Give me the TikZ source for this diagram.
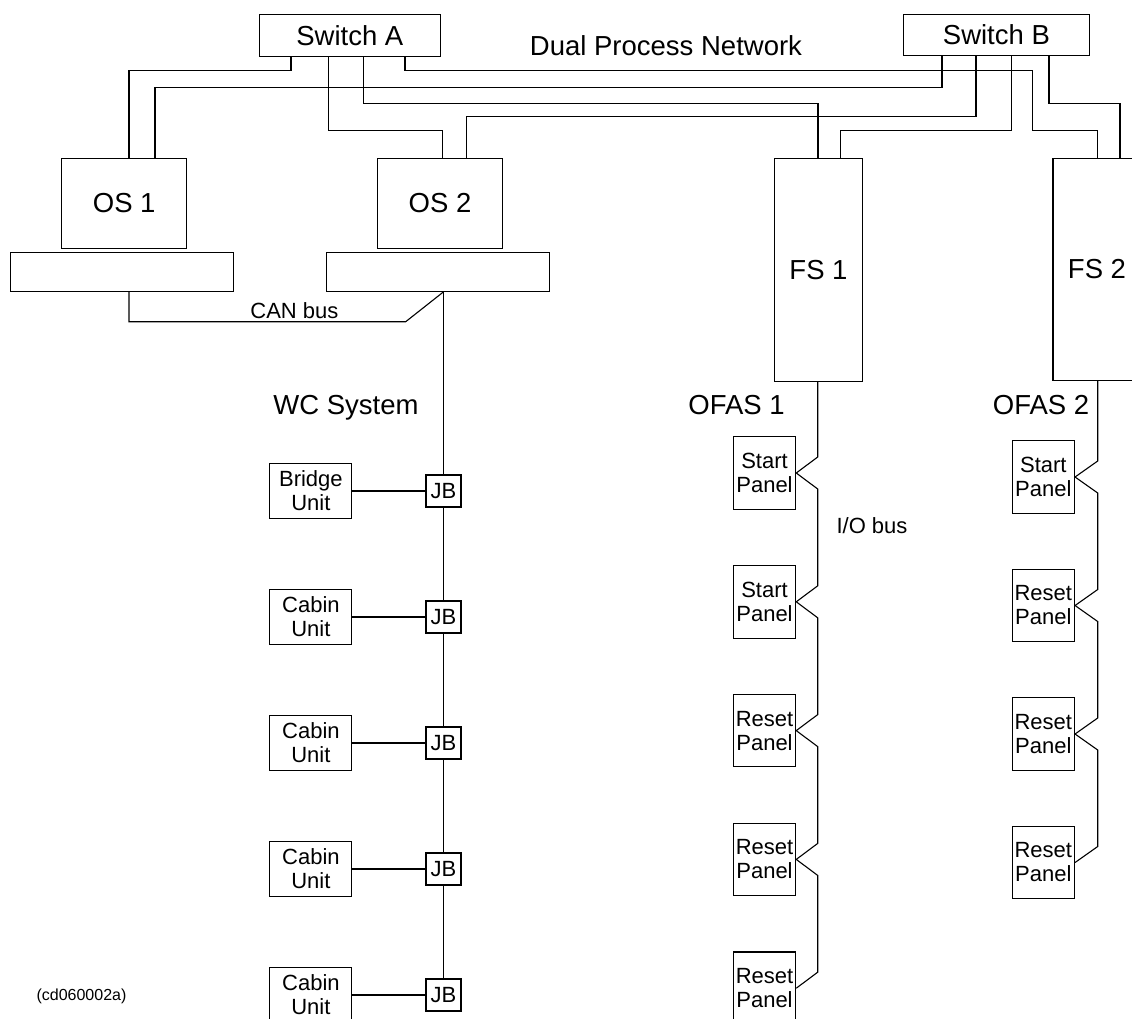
\documentclass[tikz,border=0pt]{standalone}
\usepackage{fontspec}
\setmainfont{Liberation Sans}
\usetikzlibrary{positioning}

\tikzset{
  box/.style={draw,rectangle,inner sep=0pt,align=center},
  bigtxt/.style={font=\fontsize{27.5}{30}\selectfont},
  midtxt/.style={font=\fontsize{22}{24}\selectfont},
  unitbox/.style={box,midtxt,minimum width=82pt,minimum height=55pt},
  jbox/.style={box,midtxt,minimum width=35pt,minimum height=32pt},
  panelbox/.style={box,midtxt,minimum width=62.4pt,minimum height=72.5pt},
}

\begin{document}
\begin{tikzpicture}[x=1pt,y=-1pt,line width=1.1pt,line join=miter]
      \useasboundingbox (0,0) rectangle (1132,1018);
      % network
      \node[box,bigtxt,minimum width=181.5pt,minimum height=41.3pt] (swA) at (349.8,35.4) {Switch A};
      \node[box,bigtxt,minimum width=186pt,minimum height=41.4pt] (swB) at (996.4,35) {Switch B};
      \node[bigtxt] (dpn) at (666,46) {Dual Process Network};
      \node[box,bigtxt,minimum width=125pt,minimum height=90pt] (os1) at (124.2,203.3) {OS 1};
      \node[box,minimum width=222.7pt,minimum height=39pt] (os1b) at (122,271.8) {};
      \node[box,bigtxt,minimum width=125pt,minimum height=90pt] (os2) at (440,203.4) {OS 2};
      \node[box,minimum width=222.8pt,minimum height=39pt] (os2b) at (438.2,271.8) {};
      \node[box,bigtxt,minimum width=88pt,minimum height=222.7pt] (fs1) at (818.5,269.7) {FS 1};
      \node[box,bigtxt,minimum width=88pt,minimum height=222.2pt] (fs2) at (1097,269.4) {FS 2};
      \draw (swA.south -| 291,0) |- (129,70.7) -- (129,0 |- os1.north);
      \draw (swB.south -| 942,0) |- (155,87.3) -- (155,0 |- os1.north);
      \draw (swA.south -| 328.4,0) |- (442.8,130.7) -- (442.8,0 |- os2.north);
      \draw (swB.south -| 976,0) |- (466.5,116.7) -- (466.5,0 |- os2.north);
      \draw (swA.south -| 363.6,0) |- (818,103.7) -- (818,0 |- fs1.north);
      \draw (swB.south -| 1011.7,0) |- (840.2,130.7) -- (840.2,0 |- fs1.north);
      \draw (swA.south -| 405,0) |- (1032.8,70.7) |- (1097.8,130.7) -- (1097.8,0 |- fs2.north);
      \draw (swB.south -| 1049,0) |- (1120,103.7) -- (1120,0 |- fs2.north);
      % WC system
      \node[bigtxt,anchor=base] (wcs) at (346,414) {WC System};
      \node[jbox] (jb1) at (443.5,491) {JB};
      \node[jbox] (jb2) at (443.5,617) {JB};
      \node[jbox] (jb3) at (443.5,743) {JB};
      \node[jbox] (jb4) at (443.5,869) {JB};
      \node[jbox] (jb5) at (443.5,995) {JB};
      \node[unitbox,left=73pt of jb1] (bu1) {Bridge\\Unit};
      \node[unitbox,left=73pt of jb2] (cu2) {Cabin\\Unit};
      \node[unitbox,left=73pt of jb3] (cu3) {Cabin\\Unit};
      \node[unitbox,left=73pt of jb4] (cu4) {Cabin\\Unit};
      \node[unitbox,left=73pt of jb5] (cu5) {Cabin\\Unit};
      \draw (bu1) -- (jb1);
      \draw (cu2) -- (jb2);
      \draw (cu3) -- (jb3);
      \draw (cu4) -- (jb4);
      \draw (cu5) -- (jb5);
      \draw (jb1 |- os2b.south) -- (jb1) -- (jb2) -- (jb3) -- (jb4) -- (jb5);
      \draw (os1b.south -| 129,0) |- (405.7,321.7) -- (jb1 |- os2b.south);
      \node[midtxt] (can) at (294.4,310.8) {CAN bus};
      % OFAS 1
      \node[bigtxt,anchor=base] (ofas1) at (736.6,414) {OFAS 1};
      \node[panelbox] (pa1) at (764.5,473) {Start\\Panel};
      \node[panelbox] (pa2) at (764.5,601.8) {Start\\Panel};
      \node[panelbox] (pa3) at (764.5,730.6) {Reset\\Panel};
      \node[panelbox] (pa4) at (764.5,859.4) {Reset\\Panel};
      \node[panelbox] (pa5) at (764.5,988.2) {Reset\\Panel};
      \draw (fs1.south -| 817.7,0) -- (817.7,457) -- (pa1.east) -- (817.7,489)
        -- (817.7,585.8) -- (pa2.east) -- (817.7,617.8)
        -- (817.7,714.6) -- (pa3.east) -- (817.7,746.6)
        -- (817.7,843.4) -- (pa4.east) -- (817.7,875.4)
        -- (817.7,972.2) -- (pa5.east);
      \node[midtxt,anchor=base] (iob) at (872,533) {I/O bus};
      % OFAS 2
      \node[bigtxt,anchor=base] (ofas2) at (1041,414) {OFAS 2};
      \node[panelbox] (pb1) at (1043.3,477) {Start\\Panel};
      \node[panelbox] (pb2) at (1043.3,605.5) {Reset\\Panel};
      \node[panelbox] (pb3) at (1043.3,734) {Reset\\Panel};
      \node[panelbox] (pb4) at (1043.3,862.5) {Reset\\Panel};
      \draw (fs2.south -| 1097.7,0) -- (1097.7,461) -- (pb1.east) -- (1097.7,493)
        -- (1097.7,589.5) -- (pb2.east) -- (1097.7,621.5)
        -- (1097.7,718) -- (pb3.east) -- (1097.7,750)
        -- (1097.7,846.5) -- (pb4.east);
      \node[font=\fontsize{16}{18}\selectfont] (cd) at (81.5,996) {(cd060002a)};
    \end{tikzpicture}
\end{document}
